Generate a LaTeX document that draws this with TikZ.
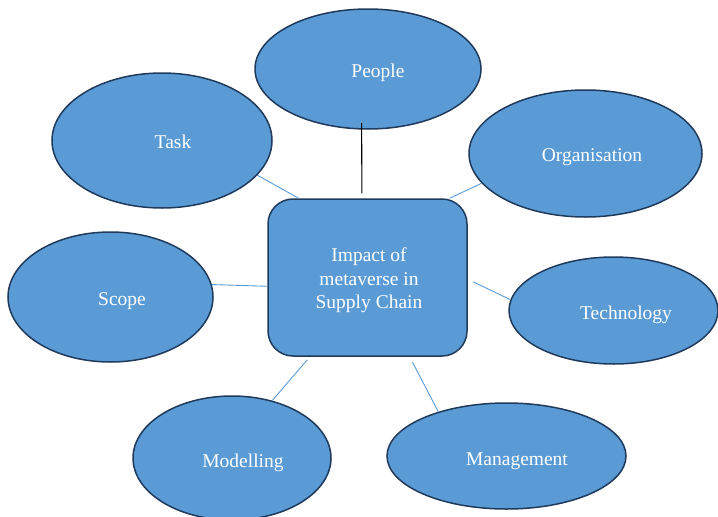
\documentclass[tikz,border=0pt]{standalone}
\usepackage{fontspec}
\setmainfont{Liberation Serif}
\usetikzlibrary{shapes.geometric}
\definecolor{fillblue}{HTML}{5B9BD5}
\definecolor{edgeblue}{HTML}{1F3A5A}
\definecolor{linkblue}{HTML}{5B9BD5}
\tikzset{
  bubble/.style={ellipse, draw=edgeblue, fill=fillblue, line width=1.5pt, inner sep=0pt},
  hub/.style={rectangle, rounded corners=25pt, draw=edgeblue, fill=fillblue, line width=1.5pt, inner sep=0pt, minimum width=199pt, minimum height=157pt},
  txt/.style={text=white, font=\fontsize{19.5}{23.3}\selectfont, inner sep=0pt},
  link/.style={draw=linkblue, line width=0.9pt},
}
\begin{document}
\begin{tikzpicture}[x=1pt,y=-1pt]
\useasboundingbox (0,0) rectangle (718,517);
% ellipses
\node[bubble, minimum width=226pt, minimum height=120pt] (people) at (368,69) {};
\node[bubble, minimum width=220pt, minimum height=135pt] (task) at (162,140.5) {};
\node[bubble, minimum width=233pt, minimum height=127pt] (org) at (585.5,153.5) {};
\node[bubble, minimum width=205pt, minimum height=130pt] (scope) at (110.5,297) {};
\node[bubble, minimum width=209pt, minimum height=107pt] (tech) at (613.5,310.5) {};
\node[bubble, minimum width=198pt, minimum height=124pt] (model) at (232,458) {};
\node[bubble, minimum width=239pt, minimum height=106pt] (manage) at (506.5,456) {};
% hub
\node[hub] (box) at (367.5,277.5) {};
% connectors
\draw[link] (task.-20.8) -- (box.131.9);
\draw[link] (scope.7) -- (box.-175.7);
\draw[link] (org.196.6) -- (box.44.6);
\draw[link, shorten <=6pt] (box.-1.9) -- (tech.174.2);
\draw[link, shorten <=4pt] (box.-126.7) -- (model.55.2);
\draw[link, shorten <=6pt] (box.-62.2) -- (manage.147.3);
\draw[black, line width=1.1pt, shorten <=-6.5pt, shorten >=5pt] (people.264.3) -- (box.94.7);
% texts
\node[txt, anchor=base] (peoplet) at (378,77) {People};
\node[txt, anchor=base] (taskt) at (173,148) {Task};
\node[txt, anchor=base] (orgt) at (592,161) {Organisation};
\node[txt, anchor=base] (scopet) at (122,305) {Scope};
\node[txt, anchor=base] (techt) at (626,319) {Technology};
\node[txt, anchor=base] (modelt) at (243,467) {Modelling};
\node[txt, anchor=base] (managet) at (517,465) {Management};
\node[txt, align=center] (boxt) at (369,280.5) {Impact of\\metaverse in\\Supply Chain};
\end{tikzpicture}
\end{document}
